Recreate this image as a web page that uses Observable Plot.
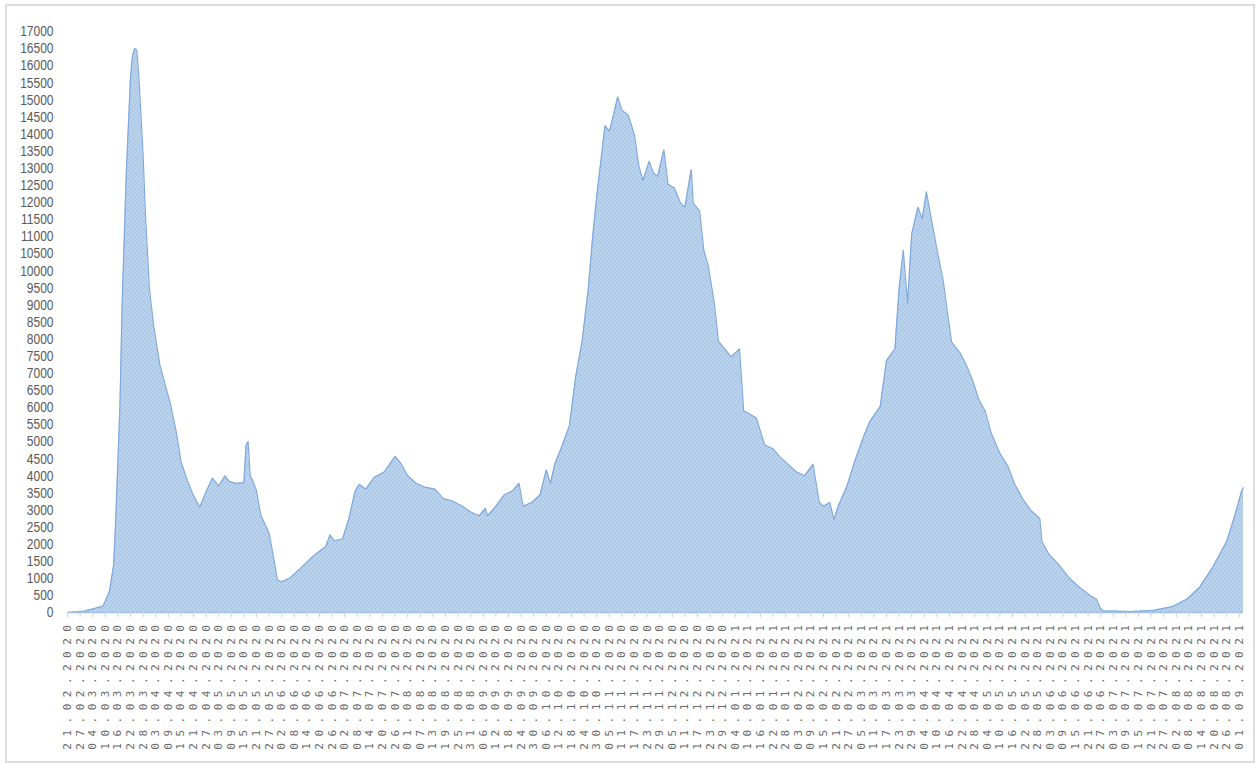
<!DOCTYPE html>
<html>
<head>
<meta charset="utf-8">
<script src="https://cdn.jsdelivr.net/npm/d3@7"></script>
<script src="https://cdn.jsdelivr.net/npm/@observablehq/plot@0.6"></script>
<style>
  html, body { margin: 0; padding: 0; background: #ffffff; }
  #wrap { position: relative; width: 1259px; height: 769px; overflow: hidden; }
  #frame { position: absolute; left: 5px; top: 4px; width: 1246px; height: 755px;
           border: 2px solid #dcdcdc; pointer-events: none; }
</style>
</head>
<body>
<div id="wrap"><div id="chart"></div><div id="frame"></div></div>
<script>
// ---- data ----
const dates = [
 "21.02.2020","29.02.2020","05.03.2020","09.03.2020","12.03.2020","14.03.2020","15.03.2020","17.03.2020","18.03.2020","20.03.2020",
 "22.03.2020","23.03.2020","24.03.2020","25.03.2020","26.03.2020","28.03.2020","29.03.2020","31.03.2020","02.04.2020","05.04.2020",
 "08.04.2020","10.04.2020","13.04.2020","15.04.2020","18.04.2020","21.04.2020","24.04.2020","27.04.2020","30.04.2020","03.05.2020",
 "06.05.2020","08.05.2020","11.05.2020","15.05.2020","16.05.2020","17.05.2020","18.05.2020","19.05.2020","21.05.2020","23.05.2020",
 "27.05.2020","29.05.2020","31.05.2020","02.06.2020","06.06.2020","11.06.2020","17.06.2020","23.06.2020","25.06.2020","27.06.2020",
 "01.07.2020","04.07.2020","07.07.2020","09.07.2020","12.07.2020","16.07.2020","21.07.2020","26.07.2020","29.07.2020","01.08.2020",
 "05.08.2020","09.08.2020","14.08.2020","18.08.2020","22.08.2020","27.08.2020","31.08.2020","04.09.2020","07.09.2020","08.09.2020",
 "12.09.2020","16.09.2020","20.09.2020","23.09.2020","25.09.2020","29.09.2020","03.10.2020","06.10.2020","08.10.2020","10.10.2020",
 "13.10.2020","17.10.2020","20.10.2020","23.10.2020","26.10.2020","28.10.2020","30.10.2020","02.11.2020","03.11.2020","05.11.2020",
 "06.11.2020","09.11.2020","11.11.2020","14.11.2020","17.11.2020","19.11.2020","21.11.2020","24.11.2020","26.11.2020","28.11.2020",
 "01.12.2020","03.12.2020","06.12.2020","09.12.2020","11.12.2020","14.12.2020","15.12.2020","18.12.2020","20.12.2020","22.12.2020",
 "25.12.2020","27.12.2020","30.12.2020","02.01.2021","06.01.2021","08.01.2021","11.01.2021","14.01.2021","18.01.2021","22.01.2021",
 "25.01.2021","29.01.2021","02.02.2021","06.02.2021","10.02.2021","13.02.2021","15.02.2021","18.02.2021","20.02.2021","22.02.2021",
 "26.02.2021","02.03.2021","06.03.2021","09.03.2021","14.03.2021","17.03.2021","21.03.2021","23.03.2021","25.03.2021","27.03.2021",
 "29.03.2021","01.04.2021","03.04.2021","05.04.2021","08.04.2021","10.04.2021","13.04.2021","15.04.2021","17.04.2021","21.04.2021",
 "24.04.2021","27.04.2021","30.04.2021","03.05.2021","06.05.2021","10.05.2021","14.05.2021","17.05.2021","21.05.2021","25.05.2021",
 "29.05.2021","30.05.2021","02.06.2021","07.06.2021","12.06.2021","17.06.2021","22.06.2021","25.06.2021","27.06.2021","28.06.2021",
 "11.07.2021","22.07.2021","31.07.2021","07.08.2021","13.08.2021","19.08.2021","26.08.2021","30.08.2021","02.09.2021","03.09.2021"
];
const values = [
 0,40,120,190,620,1400,2750,6100,9000,12850,
 15650,16300,16500,16450,15650,13400,11800,9480,8400,7240,
 6560,6115,5220,4430,3870,3420,3085,3530,3930,3700,
 4000,3840,3780,3800,4880,5000,4000,3890,3560,2860,
 2320,1650,950,900,1010,1290,1650,1930,2270,2100,
 2150,2750,3560,3750,3610,3950,4120,4570,4340,4000,
 3780,3670,3610,3330,3270,3110,2940,2830,3050,2830,
 3110,3440,3560,3780,3110,3220,3440,4170,3780,4340,
 4790,5460,6900,7910,9480,10940,12170,13740,14250,14080,
 14300,15090,14700,14550,13970,13090,12640,13200,12870,12760,
 13540,12530,12420,11970,11860,12960,11970,11750,10600,10180,
 9060,7930,7710,7480,7710,5900,5800,5690,4900,4790,
 4570,4340,4120,4000,4340,3220,3110,3220,2720,3110,
 3670,4450,5130,5580,6030,7370,7710,9480,10600,9050,
 11070,11860,11520,12310,11300,10630,9710,8800,7910,7600,
 7240,6790,6230,5890,5220,4660,4260,3760,3310,2970,
 2750,2080,1740,1400,1010,730,500,390,110,50,
 30,60,170,390,730,1290,2080,2860,3530,3650
];
const xTickLabels = [
 "21.02.2020","27.02.2020","04.03.2020","10.03.2020","16.03.2020","22.03.2020","28.03.2020","03.04.2020","09.04.2020","15.04.2020",
 "21.04.2020","27.04.2020","03.05.2020","09.05.2020","15.05.2020","21.05.2020","27.05.2020","02.06.2020","08.06.2020","14.06.2020",
 "20.06.2020","26.06.2020","02.07.2020","08.07.2020","14.07.2020","20.07.2020","26.07.2020","01.08.2020","07.08.2020","13.08.2020",
 "19.08.2020","25.08.2020","31.08.2020","06.09.2020","12.09.2020","18.09.2020","24.09.2020","30.09.2020","06.10.2020","12.10.2020",
 "18.10.2020","24.10.2020","30.10.2020","05.11.2020","11.11.2020","17.11.2020","23.11.2020","29.11.2020","05.12.2020","11.12.2020",
 "17.12.2020","23.12.2020","29.12.2020","04.01.2021","10.01.2021","16.01.2021","22.01.2021","28.01.2021","03.02.2021","09.02.2021",
 "15.02.2021","21.02.2021","27.02.2021","05.03.2021","11.03.2021","17.03.2021","23.03.2021","29.03.2021","04.04.2021","10.04.2021",
 "16.04.2021","22.04.2021","28.04.2021","04.05.2021","10.05.2021","16.05.2021","22.05.2021","28.05.2021","03.06.2021","09.06.2021",
 "15.06.2021","21.06.2021","27.06.2021","03.07.2021","09.07.2021","15.07.2021","21.07.2021","27.07.2021","02.08.2021","08.08.2021",
 "14.08.2021","20.08.2021","26.08.2021","01.09.2021"
];
const yTickValues = [0,500,1000,1500,2000,2500,3000,3500,4000,4500,5000,5500,6000,6500,7000,7500,8000,8500,
 9000,9500,10000,10500,11000,11500,12000,12500,13000,13500,14000,14500,15000,15500,16000,16500,17000];
const xStart = "21.02.2020", xEnd = "03.09.2021";

// ---- build ----
const parse = d3.utcParse("%d.%m.%Y");
const fmt = d3.utcFormat("%d.%m.%Y");
const data = dates.map((d, i) => ({date: parse(d), value: values[i]}));

const chart = Plot.plot({
  width: 1259,
  height: 769,
  marginLeft: 67,
  marginRight: 16,
  marginTop: 31,
  marginBottom: 157,
  style: {background: "transparent", fontFamily: "Liberation Sans, Arial, sans-serif"},
  x: {type: "utc", domain: [parse(xStart), parse(xEnd)], label: null},
  y: {domain: [0, 17000], label: null},
  marks: [
    Plot.areaY(data, {x: "date", y: "value", fill: "url(#hatchFill)", curve: "linear"}),
    Plot.lineY(data, {x: "date", y: "value", stroke: "#7fa9dd", strokeWidth: 1.2, curve: "linear"}),
    Plot.ruleY([0], {stroke: "#9fbfe6", strokeWidth: 1.5}),
    Plot.axisY({ticks: yTickValues, tickFormat: d => String(d), tickSize: 0, tickPadding: 14,
                fontSize: 12, color: "#595959", label: null}),
    Plot.axisX({ticks: xTickLabels.map(parse), tickFormat: fmt, tickRotate: -90,
                tickSize: 5, tickPadding: 1, fontSize: 11, stroke: "#d0d0d0", color: "#666666", label: null})
  ]
});

// hatch pattern like the spreadsheet fill
const svg = d3.select(chart);
const defs = svg.insert("defs", ":first-child");
const pat = defs.append("pattern").attr("id", "hatchFill").attr("patternUnits", "userSpaceOnUse")
  .attr("width", 4).attr("height", 4);
pat.append("rect").attr("width", 4).attr("height", 4).attr("fill", "#b9d3ef");
pat.append("path").attr("d", "M-1,1 L1,-1 M0,4 L4,0 M3,5 L5,3").attr("stroke", "#a2c2e8").attr("stroke-width", 1);

function stretch(el, sx, sy) {
  let t = el.getAttribute("transform") || "";
  let tx = 0, ty = 0;
  const ax = el.getAttribute("x"), ay = el.getAttribute("y");
  if (ax !== null && isFinite(+ax)) { tx = +ax; el.removeAttribute("x"); }
  if (ay !== null && isFinite(+ay)) { ty = +ay; el.removeAttribute("y"); }
  el.setAttribute("transform", `${t} translate(${tx},${ty}) scale(${sx},${sy})`.trim());
}
svg.selectAll('[aria-label="y-axis tick label"] text').each(function() {
  this.style.fill = "#595959";
  stretch(this, 1, 1.25);
});
svg.selectAll('[aria-label="x-axis tick label"] text').each(function() {
  this.style.fontFamily = "DejaVu Sans Mono, monospace";
  this.style.letterSpacing = "6.5px";
  this.style.fill = "#6a6a6a";
});

document.getElementById("chart").appendChild(chart);
</script>
</body>
</html>
